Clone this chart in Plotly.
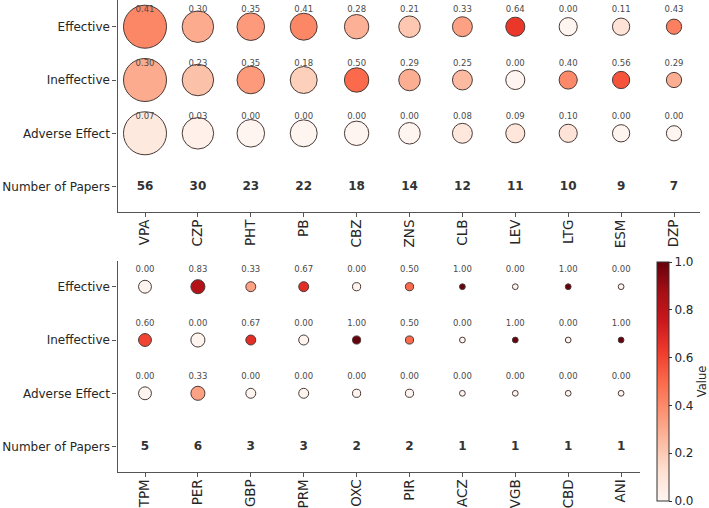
import numpy as np
import plotly.graph_objects as go

# ---------------- data ----------------
top_drugs = ["VPA", "CZP", "PHT", "PB", "CBZ", "ZNS", "CLB", "LEV", "LTG", "ESM", "DZP"]
top_papers = [56, 30, 23, 22, 18, 14, 12, 11, 10, 9, 7]
top_effective = [0.41, 0.30, 0.35, 0.41, 0.28, 0.21, 0.33, 0.64, 0.00, 0.11, 0.43]
top_ineffective = [0.30, 0.23, 0.35, 0.18, 0.50, 0.29, 0.25, 0.00, 0.40, 0.56, 0.29]
top_adverse = [0.07, 0.03, 0.00, 0.00, 0.00, 0.00, 0.08, 0.09, 0.10, 0.00, 0.00]

bottom_drugs = ["TPM", "PER", "GBP", "PRM", "OXC", "PIR", "ACZ", "VGB", "CBD", "ANI"]
bottom_papers = [5, 6, 3, 3, 2, 2, 1, 1, 1, 1]
bottom_effective = [0.00, 0.83, 0.33, 0.67, 0.00, 0.50, 1.00, 0.00, 1.00, 0.00]
bottom_ineffective = [0.60, 0.00, 0.67, 0.00, 1.00, 0.50, 0.00, 1.00, 0.00, 1.00]
bottom_adverse = [0.00, 0.33, 0.00, 0.00, 0.00, 0.00, 0.00, 0.00, 0.00, 0.00]

row_labels = ["Effective", "Ineffective", "Adverse Effect", "Number of Papers"]
cbar_ticks = [0.0, 0.2, 0.4, 0.6, 0.8, 1.0]

# ---------------- style ----------------
W, H = 709, 508
MB = 10                # bottom margin (room for overflow)
PH = H - MB            # plot-area height
FONT = "DejaVu Sans"
SIZE_SCALE = 5.75      # px diameter per sqrt(paper)
LABEL_OFFSET = 0.31    # value label offset above bubble, in row units
AXIS_COLOR = "#555555"
TEXT_COLOR = "#262626"


def fy(px):
    """pixel-from-top -> plot-area fraction"""
    return (PH - px) / PH


fig = go.Figure()


def add_panel(drugs, papers, rows, xa, ya):
    xs = list(range(len(drugs)))
    sizes = [SIZE_SCALE * np.sqrt(p) for p in papers]
    for yv, vals in zip([3, 2, 1], rows):
        fig.add_trace(go.Scatter(
            x=xs, y=[yv] * len(xs), mode="markers",
            marker=dict(size=sizes, color=vals, coloraxis="coloraxis",
                        opacity=1,
                        line=dict(color="#4a3a36", width=1)),
            xaxis=xa, yaxis=ya, showlegend=False, hoverinfo="skip"))
        fig.add_trace(go.Scatter(
            x=xs, y=[yv + LABEL_OFFSET] * len(xs), mode="text",
            text=[f"{v:.2f}" for v in vals],
            textfont=dict(family=FONT, size=8.5, color="#4a4a4a"),
            xaxis=xa, yaxis=ya, showlegend=False, hoverinfo="skip"))
    fig.add_trace(go.Scatter(
        x=xs, y=[0] * len(xs), mode="text",
        text=[f"<b>{p}</b>" for p in papers],
        textfont=dict(family=FONT, size=12, color="#333333"),
        xaxis=xa, yaxis=ya, showlegend=False, hoverinfo="skip"))


add_panel(top_drugs, top_papers, [top_effective, top_ineffective, top_adverse], "x", "y")
add_panel(bottom_drugs, bottom_papers, [bottom_effective, bottom_ineffective, bottom_adverse], "x2", "y2")

unit = 52.9
x0 = 117.5


def xaxis_cfg(drugs, right_px):
    n = len(drugs)
    rng_left = -(145 - x0) / unit
    rng_right = rng_left + (right_px - x0) / unit
    return dict(
        domain=[x0 / W, right_px / W], range=[rng_left, rng_right],
        tickmode="array", tickvals=list(range(n)), ticktext=drugs,
        tickangle=-90, ticks="outside", ticklen=4, tickcolor=AXIS_COLOR,
        ticklabelstandoff=-3, automargin=False,
        tickfont=dict(family=FONT, size=13.5, color=TEXT_COLOR),
        showline=True, linecolor=AXIS_COLOR, linewidth=1.3,
        showgrid=False, zeroline=False, fixedrange=True)


def ycfg(top_px, bottom_px, anchor, row0_px):
    ru = 53.3
    lo = -(bottom_px - row0_px) / ru
    hi = lo + (bottom_px - top_px) / ru
    return dict(
        domain=[fy(bottom_px), fy(top_px)], range=[lo, hi],
        anchor=anchor, automargin=False,
        tickmode="array", tickvals=[3, 2, 1, 0], ticktext=row_labels,
        ticks="outside", ticklen=4, tickcolor=AXIS_COLOR,
        tickfont=dict(family=FONT, size=12, color=TEXT_COLOR),
        showline=True, linecolor=AXIS_COLOR, linewidth=1.3,
        showgrid=False, zeroline=False, fixedrange=True)


fig.update_layout(
    width=W, height=H,
    margin=dict(l=0, r=0, t=0, b=MB, autoexpand=False),
    paper_bgcolor="white", plot_bgcolor="white",
    font=dict(family=FONT, color=TEXT_COLOR),
    xaxis=dict(**xaxis_cfg(top_drugs, 700), anchor="y"),
    xaxis2=dict(**xaxis_cfg(bottom_drugs, 640), anchor="y2"),
    yaxis=ycfg(0, 212, "x", 186.6),
    yaxis2=ycfg(261, 471.7, "x2", 446.6),
    coloraxis=dict(
        colorscale="Reds", cmin=0, cmax=1,
        colorbar=dict(
            x=657 / W, xanchor="left", xpad=0,
            y=fy(501), yanchor="bottom", ypad=0,
            len=239 / PH, lenmode="fraction",
            thickness=12, outlinewidth=1, outlinecolor="#333333",
            tickmode="array", tickvals=cbar_ticks,
            ticktext=[f"{t:.1f}" for t in cbar_ticks],
            ticks="outside", ticklen=3, tickcolor="#333333",
            ticklabeloverflow="allow",
            tickfont=dict(family=FONT, size=12, color=TEXT_COLOR),
            title=dict(text="Value", side="right",
                       font=dict(family=FONT, size=11.5, color=TEXT_COLOR)),
        ),
    ),
)

fig.write_html("out.html")
